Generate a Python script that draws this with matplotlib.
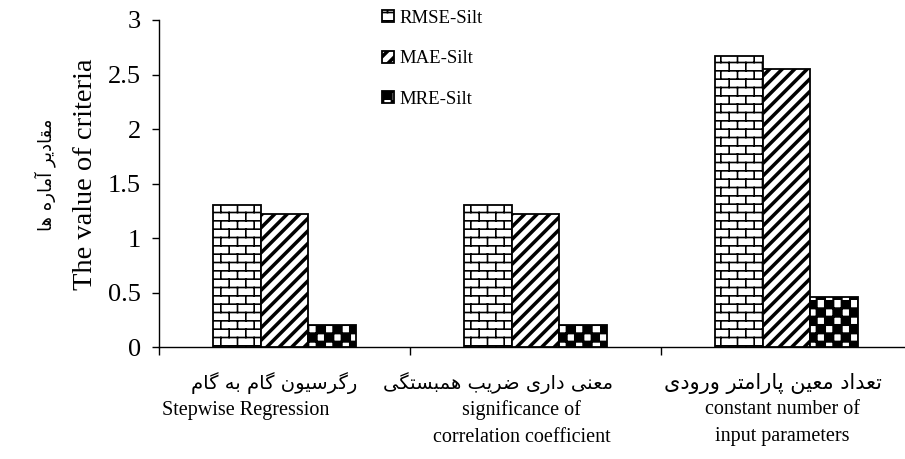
import warnings
warnings.filterwarnings("ignore")
import numpy as np
import matplotlib
matplotlib.use("Agg")
import matplotlib.pyplot as plt
from matplotlib import hatch as mhatch
from matplotlib.path import Path
from matplotlib.transforms import blended_transform_factory

# ---------------- data ----------------
categories_fa = ["رگرسیون گام به گام", "معنی داری ضریب همبستگی", "تعداد معین پارامتر ورودی"]
categories_en = [["Stepwise Regression"],
                 ["significance of", "correlation coefficient"],
                 ["constant number of", "input parameters"]]
series_names = ["RMSE-Silt", "MAE-Silt", "MRE-Silt"]
rmse_silt = [1.30, 1.30, 2.67]
mae_silt = [1.22, 1.22, 2.55]
mre_silt = [0.20, 0.20, 0.46]
ytick_values = [0, 0.5, 1, 1.5, 2, 2.5, 3]
ytick_labels = ["0", "0.5", "1", "1.5", "2", "2.5", "3"]
ylabel_en = "The value of criteria"
ylabel_fa = "مقادیر آماره ها"

# ---------------- minimal Persian shaping (matplotlib has no bidi/shaping) ----------------
FORMS = {
    '\u0627': ('\uFE8D', '\uFE8E', None, None),
    '\u0622': ('\uFE81', '\uFE82', None, None),
    '\u0628': ('\uFE8F', '\uFE90', '\uFE91', '\uFE92'),
    '\u067E': ('\uFB56', '\uFB57', '\uFB58', '\uFB59'),
    '\u062A': ('\uFE95', '\uFE96', '\uFE97', '\uFE98'),
    '\u062F': ('\uFEA9', '\uFEAA', None, None),
    '\u0631': ('\uFEAD', '\uFEAE', None, None),
    '\u0633': ('\uFEB1', '\uFEB2', '\uFEB3', '\uFEB4'),
    '\u0636': ('\uFEBD', '\uFEBE', '\uFEBF', '\uFEC0'),
    '\u0639': ('\uFEC9', '\uFECA', '\uFECB', '\uFECC'),
    '\u0642': ('\uFED5', '\uFED6', '\uFED7', '\uFED8'),
    '\u06AF': ('\uFB92', '\uFB93', '\uFB94', '\uFB95'),
    '\u0645': ('\uFEE1', '\uFEE2', '\uFEE3', '\uFEE4'),
    '\u0646': ('\uFEE5', '\uFEE6', '\uFEE7', '\uFEE8'),
    '\u0647': ('\uFEE9', '\uFEEA', '\uFEEB', '\uFEEC'),
    '\u0648': ('\uFEED', '\uFEEE', None, None),
    '\u06CC': ('\uFBFC', '\uFBFD', '\uFBFE', '\uFBFF'),
    '\u064A': ('\uFBFC', '\uFBFD', '\uFBFE', '\uFBFF'),
}


def shape_fa(s):
    out = []
    n = len(s)
    for i, ch in enumerate(s):
        f = FORMS.get(ch)
        if f is None:
            out.append(ch)
            continue
        prev = s[i - 1] if i > 0 else None
        nxt = s[i + 1] if i + 1 < n else None
        jp = prev in FORMS and FORMS[prev][2] is not None
        jn = f[2] is not None and nxt in FORMS
        if jp and jn:
            out.append(f[3])
        elif jp:
            out.append(f[1])
        elif jn:
            out.append(f[2])
        else:
            out.append(f[0])
    return "".join(out)[::-1]


# ---------------- custom hatches ----------------
class BrickHatch(mhatch.HatchPatternBase):
    rows, cols = 12, 6

    def __init__(self, hatch, density):
        self.on = hatch.count('k') > 0
        self.num_vertices = (self.rows + self.rows * self.cols + self.cols) * 2 if self.on else 0

    def set_vertices_and_codes(self, vertices, codes):
        segs = []
        h = 1.0 / self.rows
        for r in range(self.rows):
            y0 = (r + 0.5) * h
            y1 = min(y0 + h, 1.0)
            segs.append(((0.0, y0), (1.0, y0)))
            off = 0.75 if r % 2 else 0.25
            for c in range(self.cols):
                xx = (c + off) / self.cols
                segs.append(((xx, y0), (xx, y1)))
        off = 0.75
        for c in range(self.cols):
            xx = (c + off) / self.cols
            segs.append(((xx, 0.0), (xx, 0.5 * h)))
        arr = np.array(segs, dtype=float).reshape(-1, 2)
        vertices[:] = arr
        codes[0::2] = Path.MOVETO
        codes[1::2] = Path.LINETO


class StripeHatch(mhatch.HatchPatternBase):
    n = 8
    w = 0.026

    def __init__(self, hatch, density):
        self.on = hatch.count('d') > 0
        self.num_vertices = (2 * self.n + 1) * 5 if self.on else 0

    def set_vertices_and_codes(self, vertices, codes):
        verts = []
        e = 0.1
        for k in range(-self.n, self.n + 1):
            a = k / self.n
            verts += [(a - e, -e), (a + self.w - e, -e), (a + self.w + 1 + e, 1 + e),
                      (a + 1 + e, 1 + e), (a - e, -e)]
        vertices[:] = np.array(verts, dtype=float)
        c = [Path.MOVETO, Path.LINETO, Path.LINETO, Path.LINETO, Path.CLOSEPOLY]
        codes[:] = np.tile(c, 2 * self.n + 1)


class CheckerHatch(mhatch.HatchPatternBase):
    n = 12
    shrink = -0.002

    def __init__(self, hatch, density):
        self.on = hatch.count('c') > 0
        self.num_vertices = (self.n * self.n // 2) * 5 if self.on else 0

    def set_vertices_and_codes(self, vertices, codes):
        verts = []
        s = 1.0 / self.n
        d = self.shrink
        for i in range(self.n):
            for j in range(self.n):
                if (i + j) % 2 == 0:
                    x0, y0 = i * s + d, j * s + d
                    x1, y1 = (i + 1) * s - d, (j + 1) * s - d
                    verts += [(x0, y0), (x1, y0), (x1, y1), (x0, y1), (x0, y0)]
        vertices[:] = np.array(verts, dtype=float)
        c = [Path.MOVETO, Path.LINETO, Path.LINETO, Path.LINETO, Path.CLOSEPOLY]
        codes[:] = np.tile(c, self.n * self.n // 2)


mhatch._hatch_types.extend([BrickHatch, StripeHatch, CheckerHatch])
mhatch._validate_hatch_pattern = lambda h: None

plt.rcParams['hatch.linewidth'] = 1.2
plt.rcParams['hatch.color'] = 'black'

serif = ['Liberation Serif', 'DejaVu Sans']

# ---------------- figure ----------------
W, H = 905, 459
fig = plt.figure(figsize=(W / 100, H / 100), dpi=100)
ax = fig.add_axes([159 / W, 1 - 347 / H, 753 / W, (347 - 20) / H])

x = np.arange(len(categories_fa))
bw = 0.19
series = [rmse_silt, mae_silt, mre_silt]
hatches = ['k', 'd', 'c']
for i, (vals, name, hp) in enumerate(zip(series, series_names, hatches)):
    ax.bar(x + (i - 1) * bw, vals, width=bw, facecolor='white', edgecolor='black',
           linewidth=1.3, hatch=hp, label=name, zorder=3)

ax.set_xlim(-0.5, 2.5)
ax.set_ylim(0, 3)
for sp in ['top', 'right']:
    ax.spines[sp].set_visible(False)
for sp in ['left', 'bottom']:
    ax.spines[sp].set_linewidth(1.0)
    ax.spines[sp].set_color('black')

ax.set_yticks(ytick_values)
ax.set_yticklabels(ytick_labels, fontfamily=serif, fontsize=19)
ax.tick_params(axis='y', direction='out', length=5, width=1.0, pad=8)

# category boundary ticks, labels drawn as text lines below
ax.set_xticks([])
ax.set_xticks(np.arange(-0.5, 2.0, 1.0), minor=True)
ax.tick_params(axis='x', which='minor', direction='out', length=6, width=1.0)

tr = blended_transform_factory(ax.transData, fig.transFigure)
px = 1.0 / 251.0  # one pixel in category units
fa_shift = [-10, -38, -14]
en_shift = [-39, -14, -4]
fa_y = 383
en_y = [410, 437]
fa_sizes = [14, 14, 15]
for i in range(len(categories_fa)):
    ax.text(x[i] + fa_shift[i] * px, 1 - fa_y / H, shape_fa(categories_fa[i]),
            transform=tr, ha='center', va='center', fontfamily=['DejaVu Sans'],
            fontsize=fa_sizes[i], clip_on=False)
    for j, line in enumerate(categories_en[i]):
        ax.text(x[i] + en_shift[i] * px, 1 - en_y[j] / H, line, transform=tr,
                ha='center', va='center', fontfamily=serif, fontsize=14.5, clip_on=False)

fig.text(85 / W, 1 - 174 / H, ylabel_en, rotation=90, ha='center', va='center',
         fontfamily=serif, fontsize=20.5)
fig.text(45 / W, 1 - 175 / H, shape_fa(ylabel_fa), rotation=90, ha='center', va='center',
         fontfamily=['DejaVu Sans'], fontsize=13)

leg = ax.legend(loc='upper left', bbox_to_anchor=(382 / W, 1 - 10 / H),
                bbox_transform=fig.transFigure, frameon=False,
                prop={'family': serif, 'size': 13.5}, handlelength=0.62, handleheight=0.62,
                handletextpad=0.3, labelspacing=1.25, borderpad=0, borderaxespad=0)

fig.savefig('out.png', dpi=100)
